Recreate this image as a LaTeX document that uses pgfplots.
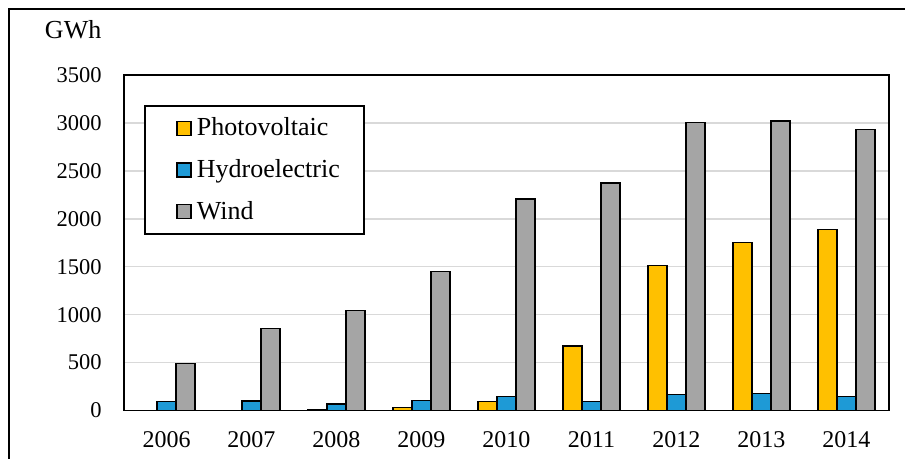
\documentclass[border=0pt]{standalone}
\usepackage{pgfplots}
\pgfplotsset{compat=1.18}
\usepackage{fontspec}
\setmainfont{Liberation Serif}
\definecolor{pv}{HTML}{FFC000}
\definecolor{hydro}{HTML}{1E9AD6}
\definecolor{wind}{HTML}{A5A5A5}
\definecolor{gridgray}{HTML}{D9D9D9}
\newcommand{\chartfont}{\fontsize{11.25}{13.5}\selectfont}
\newcommand{\xfont}{\fontsize{12}{14}\selectfont}
\newcommand{\legfont}{\fontsize{13}{15.5}\selectfont}
\begin{document}
\begin{tikzpicture}
\useasboundingbox (0,0) rectangle (452.5pt,229.5pt);
\begin{scope}
  \clip (0,0) rectangle (452.5pt,229.5pt);
  \draw[line width=1pt] (4.5pt,-5pt) -- (4.5pt,225pt) -- (460pt,225pt);
\end{scope}
\node[anchor=base east, font=\legfont, inner sep=0pt] at (50.85pt,210.35pt) {GWh};
\begin{axis}[
    at={(62pt,24.25pt)}, anchor=south west,
    scale only axis,
    width=382.5pt, height=167.75pt,
    ybar=0pt,
    bar width=9.5pt,
    ymin=0, ymax=3500,
    ytick={0,500,...,3500},
    xmin=-0.5, xmax=8.5,
    xtick=data,
    xticklabels={2006,2007,2008,2009,2010,2011,2012,2013,2014},
    major tick length=0pt,
    axis line style={line width=0.9pt},
    ymajorgrids=true,
    grid style={gridgray, line width=0.75pt},
    /pgf/number format/1000 sep={},
    /pgf/number format/assume math mode=true,
    yticklabel style={font=\chartfont, inner sep=0pt, anchor=east, xshift=-11pt},
    xticklabel style={font=\xfont, inner sep=0pt, anchor=north, yshift=-10.5pt},
    legend style={
        at={(0.02614,0.9106)}, anchor=north west,
        draw=black, line width=0.9pt,
        font=\legfont,
        inner xsep=10pt, inner ysep=4pt,
        row sep=6.3pt,
        cells={anchor=west},
    },
    legend image code/.code={
        \path[draw=none, fill=none] (0pt,0pt) -- (14pt,0pt);
        \draw[#1, line width=0.7pt] (6pt,-3.5pt) rectangle (13pt,3.5pt);
    },
]
\addplot[fill=pv, draw=black, line width=0.75pt] coordinates {
    (0,0) (1,0) (2,5) (3,33) (4,96) (5,673) (6,1515) (7,1755) (8,1890)
};
\addplot[fill=hydro, draw=black, line width=0.75pt] coordinates {
    (0,92) (1,99) (2,68) (3,102) (4,144) (5,96) (6,169) (7,175) (8,144)
};
\addplot[fill=wind, draw=black, line width=0.75pt] coordinates {
    (0,488) (1,857) (2,1043) (3,1448) (4,2206) (5,2373) (6,3002) (7,3020) (8,2929)
};
\legend{Photovoltaic,Hydroelectric,Wind}
\end{axis}
\end{tikzpicture}
\end{document}
